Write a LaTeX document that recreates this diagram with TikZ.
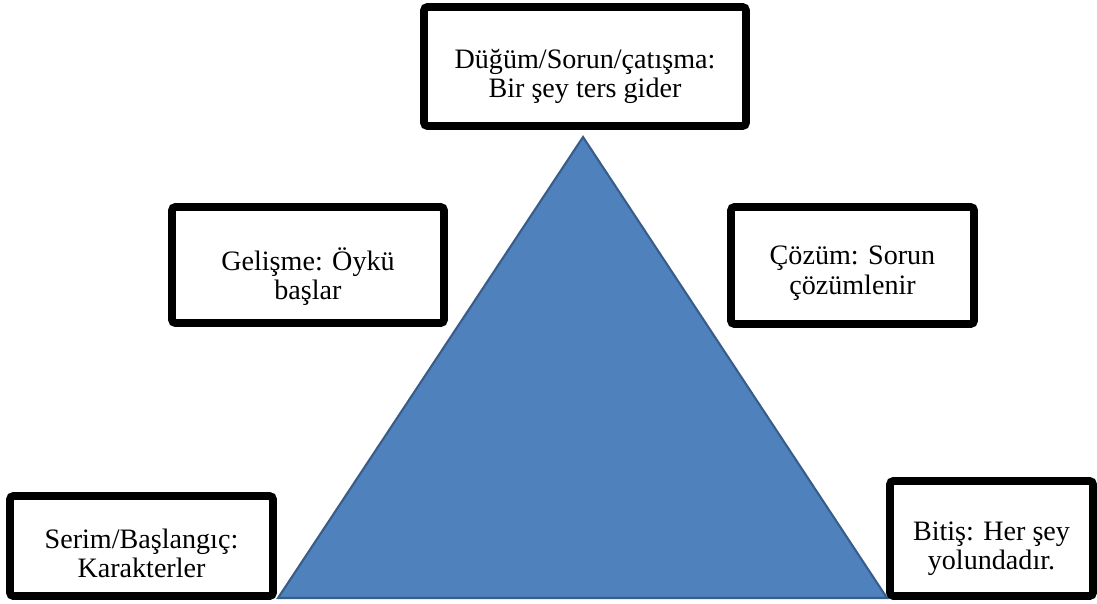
\documentclass[tikz,border=0pt]{standalone}
\usepackage{fontspec}
\setmainfont{Liberation Serif}
\usepackage{xcolor}
\usepackage{tikz}
\usetikzlibrary{positioning}

\definecolor{trifill}{HTML}{4F81BD}
\definecolor{tridraw}{HTML}{385D8A}

\begin{document}
\begin{tikzpicture}[x=0.02cm, y=-0.02cm, font=\fontsize{16}{17}\selectfont]
    \tikzstyle{stage} = [rectangle, draw=black, fill=white, line width=4.5pt, rounded corners=2pt, align=center, inner sep=0pt, text depth=0pt]
    \tikzstyle{peak} = [fill=trifill, draw=tridraw, line width=1.2pt, line join=miter]

    \useasboundingbox (0,0) rectangle (1097,603);

    % the plot triangle
    \coordinate (apex) at (583,137);
    \coordinate (baseleft) at (278,598);
    \coordinate (baseright) at (887,598);
    \draw [peak] (baseleft) -- (apex) -- (baseright) -- cycle;

    \node (dugum) [stage, text height=35.7pt, minimum width=6.44cm, minimum height=2.38cm] at (585,66.5) {Düğüm/Sorun/çatışma:\\Bir şey ters gider};
    \node (gelisme) [stage, text height=39.7pt, minimum width=5.44cm, minimum height=2.32cm] at (308,265) {Gelişme: Öykü\\başlar};
    \node (cozum) [stage, text height=33.4pt, minimum width=4.86cm, minimum height=2.34cm] at (852.5,265.5) {Çözüm: Sorun\\çözümlenir};
    \node (serim) [stage, text height=36.3pt, minimum width=5.26cm, minimum height=2.0cm] at (141.5,546) {Serim/Başlangıç:\\Karakterler};
    \node (bitis) [stage, text height=35.7pt, minimum width=4.06cm, minimum height=2.3cm] at (991.5,538.5) {Bitiş: Her şey\\yolundadır.};
\end{tikzpicture}
\end{document}
